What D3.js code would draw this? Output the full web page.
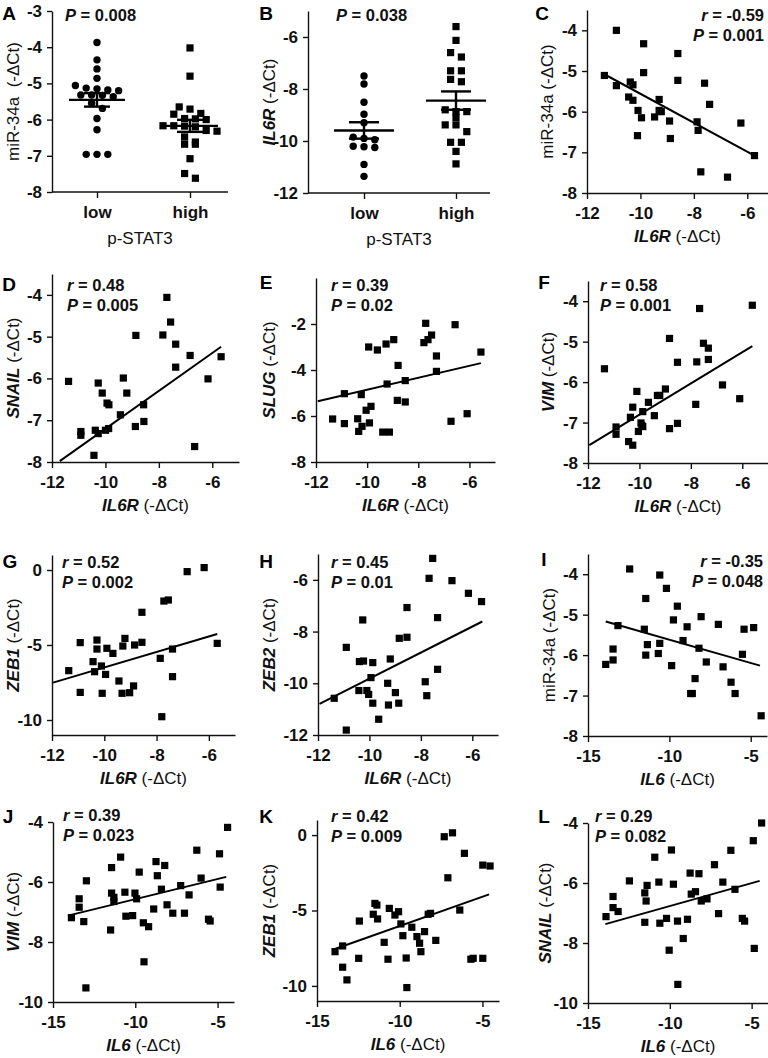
<!DOCTYPE html>
<html lang="en">
<head>
<meta charset="UTF-8">
<title>IL6R / IL6 correlations</title>
<script src="https://cdn.jsdelivr.net/npm/d3@7"></script>
<style>
  body { margin: 0; background: #fff; }
</style>
</head>
<body>
<script>
// ---- data ----
// A: miR-34a by p-STAT3 group
const aLow  = [-3.87, -4.35, -4.6, -4.86, -5.06, -5.15, -5.18, -5.2, -5.13, -5.32, -5.32, -5.33, -5.37, -5.55, -5.69, -5.97, -6.28, -6.96, -6.96, -6.96];
const aHigh = [-4.02, -4.8, -5.65, -5.71, -5.83, -5.85, -5.97, -5.98, -6.0, -6.17, -6.17, -6.18, -6.2, -6.3, -6.32, -6.48, -6.62, -6.68, -6.68, -7.08, -7.49, -7.62];
// B: IL6R by p-STAT3 group
const bLow  = [-7.5, -7.81, -8.51, -8.97, -9.3, -9.85, -9.9, -9.95, -10.2, -10.22, -10.25, -10.9, -11.36];
const bHigh = [-5.6, -6.13, -6.6, -6.77, -7.3, -7.3, -7.63, -7.72, -8.8, -8.87, -8.87, -9.1, -9.38, -9.38, -9.64, -10.05, -10.05, -10.4, -10.88];
const groups = ["low", "high"];

// C-H: against IL6R
const cIL6R = [-10.9,-9.88,-8.6,-11.35,-9.88,-8.6,-10.9,-10.38,-10.28,-7.6,-10.44,-10.28,-9.3,-7.41,-10.09,-9.47,-9.3,-9.22,-9.96,-8.91,-7.88,-6.24,-7.84,-10.11,-8.88,-7.74,-6.74,-5.73];
const cMiR34a = [-4.0,-4.33,-4.57,-5.11,-5.04,-5.23,-5.36,-5.27,-5.34,-5.3,-5.64,-5.72,-5.7,-5.82,-5.97,-6.13,-5.97,-6.0,-6.15,-6.23,-6.25,-6.28,-6.46,-6.59,-6.66,-7.48,-7.61,-7.08];

const dIL6R = [-11.38,-10.92,-10.92,-10.43,-10.38,-10.27,-10.27,-10.12,-10.0,-9.94,-9.87,-9.88,-9.44,-9.33,-9.2,-8.86,-8.88,-8.57,-8.56,-7.85,-7.7,-7.56,-7.37,-7.37,-6.83,-6.66,-6.16,-5.67];
const dSNAIL = [-6.07,-7.27,-7.36,-7.84,-7.24,-6.11,-7.32,-6.35,-7.24,-6.59,-6.63,-7.2,-6.87,-5.99,-6.35,-4.97,-7.15,-6.63,-7.03,-4.96,-4.06,-4.65,-5.18,-5.73,-5.45,-7.63,-6.01,-5.48];

const eIL6R = [-11.35,-10.89,-10.89,-10.37,-10.33,-10.23,-10.2,-10.04,-9.91,-9.94,-9.85,-9.6,-9.39,-9.26,-9.22,-9.13,-8.96,-8.79,-8.82,-8.51,-8.51,-7.78,-7.71,-7.62,-7.48,-7.29,-7.29,-6.72,-6.56,-6.09,-5.55];
const eSLUG = [-6.13,-5.03,-6.33,-6.12,-6.67,-5.07,-6.45,-5.75,-6.3,-3.0,-5.58,-3.13,-6.7,-2.87,-4.61,-6.7,-2.68,-3.8,-5.32,-5.39,-4.46,-2.81,-1.97,-2.68,-2.48,-3.39,-4.06,-6.23,-2.03,-5.9,-3.22];

const fIL6R = [-11.36,-10.91,-10.91,-10.42,-10.26,-10.35,-10.26,-10.1,-10.04,-9.87,-9.94,-9.91,-9.87,-9.65,-9.42,-9.3,-9.21,-8.99,-8.83,-8.83,-8.52,-8.52,-7.81,-7.77,-7.66,-7.51,-7.32,-7.32,-6.77,-6.1,-5.61];
const fVIM = [-5.67,-7.11,-7.29,-7.47,-7.56,-6.87,-6.62,-6.23,-7.22,-6.73,-7.01,-7.07,-7.1,-6.5,-6.83,-6.33,-6.33,-6.17,-4.92,-7.15,-7.02,-5.51,-6.55,-5.5,-4.18,-5.04,-5.16,-5.44,-6.07,-6.41,-4.1];

const gIL6R = [-11.36,-10.92,-10.92,-10.43,-10.37,-10.28,-10.28,-10.11,-10.08,-9.95,-9.9,-9.67,-9.44,-9.32,-9.29,-9.21,-9.03,-8.88,-8.84,-8.56,-8.56,-7.86,-7.8,-7.72,-7.55,-7.39,-7.39,-6.83,-6.18,-5.68];
const gZEB1 = [-6.71,-4.84,-8.16,-6.11,-6.78,-4.67,-5.27,-6.4,-8.22,-6.96,-5.22,-5.56,-7.4,-8.22,-5.07,-4.56,-8.18,-7.73,-5.0,-2.82,-4.82,-5.89,-9.78,-2.07,-2.0,-5.27,-7.11,-0.11,0.16,-4.89];

const hIL6R = [-11.37,-10.9,-10.9,-10.39,-10.41,-10.26,-10.23,-10.1,-10.03,-9.94,-9.87,-9.87,-9.64,-9.29,-9.26,-9.19,-8.99,-8.84,-8.86,-8.54,-8.54,-7.83,-7.77,-7.68,-7.54,-7.35,-7.35,-6.79,-6.15,-5.64];
const hZEB2 = [-10.58,-8.61,-11.81,-9.16,-10.28,-7.55,-9.14,-10.28,-10.43,-9.78,-9.2,-10.77,-11.39,-10.0,-10.84,-9.06,-10.36,-8.26,-10.77,-8.22,-7.07,-9.94,-10.48,-5.94,-5.17,-7.46,-9.46,-6.03,-6.52,-6.84];

// I-L: against IL6
const iIL6 = [-13.91,-13.46,-13.46,-13.16,-12.44,-11.54,-11.45,-11.45,-11.35,-10.68,-10.59,-10.59,-10.18,-9.86,-9.75,-9.51,-9.16,-8.91,-8.69,-8.59,-8.42,-8.05,-8.18,-7.73,-6.99,-6.7,-6.21,-5.96,-5.51,-5.41,-4.82,-4.36];
const iMiR34a = [-6.23,-6.12,-5.85,-5.27,-3.87,-5.36,-4.6,-6.0,-5.74,-5.96,-4.02,-5.71,-4.35,-6.26,-5.13,-4.79,-5.64,-5.3,-6.95,-6.95,-6.58,-5.05,-5.83,-6.17,-5.24,-6.29,-6.67,-6.95,-5.98,-5.36,-5.32,-7.5];

const jIL6 = [-13.88,-13.41,-13.41,-13.13,-12.97,-13.0,-11.5,-11.44,-11.44,-11.3,-11.3,-10.89,-10.63,-10.57,-10.16,-10.02,-9.92,-9.76,-9.51,-9.47,-9.19,-8.88,-8.74,-8.66,-8.41,-8.21,-8.07,-7.72,-7.24,-7.01,-6.73,-6.26,-6.0,-5.55,-5.45,-4.88,-4.84,-4.39];
const jVIM = [-7.19,-6.56,-6.84,-7.32,-5.96,-9.53,-7.6,-5.52,-6.37,-6.51,-6.65,-5.17,-6.34,-7.14,-7.12,-6.37,-6.56,-5.67,-7.36,-8.66,-7.49,-6.9,-5.32,-5.79,-6.24,-5.45,-6.76,-7.04,-6.12,-7.04,-6.43,-4.94,-5.87,-7.24,-7.3,-5.06,-6.17,-4.18];

const kIL6 = [-13.91,-13.45,-13.45,-13.19,-12.48,-12.44,-11.6,-11.5,-11.38,-11.34,-10.94,-10.71,-10.63,-10.29,-10.07,-9.93,-9.81,-9.61,-9.57,-9.27,-8.96,-8.8,-8.72,-8.5,-8.28,-8.14,-7.82,-7.31,-7.09,-6.81,-6.37,-6.09,-5.7,-5.56,-4.98,-4.98,-4.54];
const kZEB1 = [-7.73,-7.35,-8.76,-9.6,-8.17,-5.7,-5.25,-4.53,-4.64,-5.56,-7.11,-8.23,-4.86,-5.3,-5.08,-5.89,-6.67,-8.15,-10.11,-6.11,-6.73,-7.17,-7.73,-6.4,-5.25,-5.19,-6.98,-0.11,-2.83,0.15,-4.97,-1.21,-8.23,-8.17,-1.99,-8.17,-2.05];

const lIL6 = [-13.9,-13.47,-13.47,-13.16,-12.47,-11.53,-11.53,-11.45,-11.39,-10.92,-10.67,-10.61,-10.2,-10.04,-9.9,-9.78,-9.53,-9.51,-9.18,-8.92,-8.76,-8.69,-8.43,-8.22,-8.08,-7.73,-7.27,-7.02,-6.76,-6.27,-6.02,-5.57,-5.43,-4.9,-4.84,-4.39];
const lSNAIL = [-7.12,-6.45,-6.82,-6.95,-5.93,-6.33,-7.31,-6.6,-6.08,-5.14,-5.97,-7.34,-7.18,-8.24,-4.9,-6.04,-7.27,-9.38,-7.85,-7.21,-5.67,-6.37,-6.29,-5.69,-6.6,-6.53,-5.39,-7.02,-5.97,-4.91,-6.21,-7.18,-7.27,-4.59,-8.18,-4.0];

// fitted lines as printed in the figure: [[x start, y start], [x end, y end]]
const cFit = [[-11.35, -5.08], [-5.73, -7.08]];
const dFit = [[-11.71, -7.98], [-5.67, -5.24]];
const eFit = [[-11.93, -5.36], [-5.55, -3.7]];
const fFit = [[-11.95, -7.56], [-5.61, -5.11]];
const gFit = [[-11.96, -7.51], [-5.68, -4.27]];
const hFit = [[-11.94, -10.8], [-5.61, -7.61]];
const iFit = [[-13.91, -5.17], [-4.43, -6.26]];
const jFit = [[-14.09, -7.12], [-4.47, -5.83]];
const kFit = [[-14.09, -7.62], [-4.6, -3.93]];
const lFit = [[-13.94, -7.37], [-4.51, -5.93]];

// tick labels
const ticksIL6R = [-12, -10, -8, -6];
const ticksIL6 = [-15, -10, -5];
const ticksMiR = [-8, -7, -6, -5, -4];
const ticksEven = [-8, -6, -4, -2];
const ticksZEB1 = [-10, -5, 0];
const ticksZEB2 = [-12, -10, -8, -6];
const ticksB = [-12, -10, -8, -6];
const ticksA = [-8, -7, -6, -5, -4, -3];
const ticksVimL = [-10, -8, -6, -4];

// stats text
const groupP = ["0.008", "0.038"];
const rVals = ["-0.59", "0.48", "0.39", "0.58", "0.52", "0.45", "-0.35", "0.39", "0.42", "0.29"];
const pVals = ["0.001", "0.005", "0.02", "0.001", "0.002", "0.01", "0.048", "0.023", "0.009", "0.082"];

// ---- drawing ----
const FONT = '"Liberation Sans", Arial, Helvetica, sans-serif';
const INK = "#111";
const svg = d3.select("body").append("svg")
  .attr("width", 768).attr("height", 1058)
  .attr("font-family", FONT);

const plain = d => String(d); // hyphen minus, no decimals

function styleAxis(g) {
  g.attr("font-family", FONT).attr("font-size", 17).attr("font-weight", "bold");
  g.select(".domain").attr("stroke", INK).attr("stroke-width", 1.4);
  g.selectAll(".tick line").attr("stroke", INK).attr("stroke-width", 1.4);
  g.selectAll(".tick text").attr("fill", INK);
}

// parts: [text, italic, bold]
function richText(x, y, parts, o) {
  const t = svg.append("text")
    .attr("x", x).attr("y", y)
    .attr("text-anchor", o.anchor || "start")
    .attr("font-size", o.size || 16)
    .attr("fill", INK)
    .style("white-space", "pre");
  if (o.rotate) t.attr("transform", `rotate(-90,${x},${y})`).attr("dy", "0.36em");
  parts.forEach(p => t.append("tspan").text(p[0])
    .attr("font-style", p[1] ? "italic" : "normal")
    .attr("font-weight", p[2] ? "bold" : "normal"));
  return t;
}

function letter(ch, x, y) {
  svg.append("text").attr("x", x).attr("y", y).attr("text-anchor", "middle")
    .attr("font-size", 19).attr("font-weight", "bold").attr("fill", "#000").text(ch);
}

function yAxis(y, x0, ticks) {
  const g = svg.append("g").attr("transform", `translate(${x0},0)`)
    .call(d3.axisLeft(y).tickValues(ticks).tickFormat(plain).tickSize(5).tickPadding(5).tickSizeOuter(0));
  styleAxis(g);
}
function xAxis(x, y0, ticks, fmt) {
  const g = svg.append("g").attr("transform", `translate(0,${y0})`)
    .call(d3.axisBottom(x).tickValues(ticks).tickFormat(fmt || plain).tickSize(6).tickPadding(8).tickSizeOuter(0));
  styleAxis(g);
  return g;
}

// simple row-based dot spreading, like GraphPad column scatter
function spread(vals, y, cx, step, rowH) {
  const order = vals.map((v, i) => i).sort((a, b) => vals[b] - vals[a]);
  const rows = [];
  order.forEach(i => {
    const py = y(vals[i]);
    const last = rows[rows.length - 1];
    if (last && py - last.start < rowH) last.items.push(i);
    else rows.push({ start: py, items: [i] });
  });
  const pos = [];
  rows.forEach(r => {
    const n = r.items.length;
    r.items.forEach((i, j) => pos.push({ x: cx + (j - (n - 1) / 2) * step, y: y(vals[i]) }));
  });
  return pos;
}

function groupPanel(cfg) {
  const y = d3.scaleLinear().domain(cfg.yDomain).range(cfg.yRange);
  const x = d3.scalePoint().domain(groups).range(cfg.catRange);
  yAxis(y, cfg.axisX[0], cfg.yTicks);
  const gx = xAxis(x, cfg.yRange[0], groups, d => d);
  gx.select(".domain").attr("d", `M${cfg.axisX[0]},0H${cfg.axisX[1]}`);

  [cfg.low, cfg.high].forEach((vals, k) => {
    const cx = x(groups[k]);
    const pts = spread(vals, y, cx, 10.8, 7);
    if (k === 0) {
      svg.append("g").selectAll("circle").data(pts).join("circle")
        .attr("cx", d => d.x).attr("cy", d => d.y).attr("r", 3.7).attr("fill", "#000");
    } else {
      svg.append("g").selectAll("rect").data(pts).join("rect")
        .attr("x", d => d.x - 3.6).attr("y", d => d.y - 3.6)
        .attr("width", 7.2).attr("height", 7.2).attr("fill", "#000");
    }
    const m = d3.mean(vals);
    const sem = d3.deviation(vals) / Math.sqrt(vals.length);
    const s = svg.append("g").attr("stroke", "#000").attr("stroke-width", 2.4);
    s.append("line").attr("x1", cx - cfg.meanW).attr("x2", cx + cfg.meanW)
      .attr("y1", y(m)).attr("y2", y(m));
    s.append("line").attr("x1", cx).attr("x2", cx).attr("y1", y(m - sem)).attr("y2", y(m + sem));
    [m - sem, m + sem].forEach(v => s.append("line")
      .attr("x1", cx - cfg.semW).attr("x2", cx + cfg.semW).attr("y1", y(v)).attr("y2", y(v)));
  });

  const yMid = (cfg.yRange[0] + cfg.yRange[1]) / 2;
  richText(cfg.yLabX, yMid, cfg.yLab, { anchor: "middle", size: 17, rotate: true });
  richText((cfg.axisX[0] + cfg.axisX[1]) / 2, cfg.yRange[0] + 52, [["p-STAT3", 0, 0]], { anchor: "middle", size: 17 });
  richText(cfg.statX, cfg.statY, [["P", 1, 1], [" = " + cfg.p, 0, 1]], { size: 16.5 });
  letter(cfg.letter, cfg.letterX, cfg.letterY);
}

function scatterPanel(cfg) {
  const x = d3.scaleLinear().domain(cfg.xDomain).range(cfg.xRange);
  const y = d3.scaleLinear().domain(cfg.yDomain).range(cfg.yRange);
  yAxis(y, cfg.xRange[0], cfg.yTicks);
  xAxis(x, cfg.yRange[0], cfg.xTicks);

  svg.append("path")
    .datum(cfg.fit)
    .attr("d", d3.line().x(d => x(d[0])).y(d => y(d[1])))
    .attr("fill", "none").attr("stroke", "#000").attr("stroke-width", 2);

  svg.append("g").selectAll("rect").data(d3.zip(cfg.xs, cfg.ys)).join("rect")
    .attr("x", d => x(d[0]) - 3.6).attr("y", d => y(d[1]) - 3.6)
    .attr("width", 7.2).attr("height", 7.2).attr("fill", "#000");

  const yMid = (cfg.yRange[0] + cfg.yRange[1]) / 2;
  richText(cfg.yLabX, yMid, cfg.yLab, { anchor: "middle", size: 17, rotate: true });
  richText((cfg.xRange[0] + Math.min(cfg.xRange[1], 768)) / 2, cfg.yRange[0] + 49, cfg.xLab, { anchor: "middle", size: 17 });
  const anchor = cfg.statRight ? "end" : "start";
  richText(cfg.statX, cfg.statY, [["r", 1, 1], [" = " + cfg.r, 0, 1]], { size: 16.5, anchor });
  richText(cfg.statX, cfg.statY + 19.5, [["P", 1, 1], [" = " + cfg.p, 0, 1]], { size: 16.5, anchor });
  letter(cfg.letter, cfg.letterX, cfg.letterY);
}

const dct = ["  (-\u0394Ct)", 0, 0];
const dct1 = [" (-\u0394Ct)", 0, 0];
const labIL6R = [["IL6R", 1, 1], dct1];
const labIL6 = [["IL6", 1, 1], dct1];
const labMiR = [["miR-34a", 0, 0], dct1];

groupPanel({ letter: "A", letterX: 9, letterY: 20, low: aLow, high: aHigh,
  yDomain: [-8, -3], yRange: [192, 11], yTicks: ticksA, catRange: [97, 190], axisX: [52, 228],
  meanW: 28, semW: 13, yLabX: 13, yLab: [["miR-34a", 0, 0], dct], statX: 65, statY: 21, p: groupP[0] });
groupPanel({ letter: "B", letterX: 266, letterY: 20, low: bLow, high: bHigh,
  yDomain: [-12, -5], yRange: [193, 11], yTicks: ticksB, catRange: [364, 456], axisX: [308, 490],
  meanW: 30, semW: 15, yLabX: 269, yLab: labIL6R, statX: 336, statY: 21, p: groupP[1] });

const scatters = [
  { letter: "C", letterX: 542, letterY: 20, xs: cIL6R, ys: cMiR34a, fit: cFit, xDomain: [-12, -5], xRange: [587, 774], yDomain: [-8, -3.5], yRange: [193, 10],
    xTicks: ticksIL6R, yTicks: ticksMiR, yLabX: 547, yLab: labMiR, xLab: labIL6R, statX: 764, statY: 21, statRight: true },
  { letter: "D", letterX: 9, letterY: 291, xs: dIL6R, ys: dSNAIL, fit: dFit, xDomain: [-12, -5], xRange: [52, 239], yDomain: [-8, -3.5], yRange: [462, 274],
    xTicks: ticksIL6R, yTicks: ticksMiR, yLabX: 13, yLab: [["SNAIL", 1, 1], dct1], xLab: labIL6R, statX: 67, statY: 291 },
  { letter: "E", letterX: 266, letterY: 289, xs: eIL6R, ys: eSLUG, fit: eFit, xDomain: [-12, -5], xRange: [316, 495], yDomain: [-8, 0], yRange: [462, 278],
    xTicks: ticksIL6R, yTicks: ticksEven, yLabX: 269, yLab: [["SLUG", 1, 1], dct1], xLab: labIL6R, statX: 331, statY: 291 },
  { letter: "F", letterX: 544, letterY: 289, xs: fIL6R, ys: fVIM, fit: fFit, xDomain: [-12, -5], xRange: [588, 768], yDomain: [-8, -3.5], yRange: [463, 281],
    xTicks: ticksIL6R, yTicks: ticksMiR, yLabX: 548, yLab: [["VIM", 1, 1], dct1], xLab: labIL6R, statX: 600, statY: 291 },
  { letter: "G", letterX: 10, letterY: 568, xs: gIL6R, ys: gZEB1, fit: gFit, xDomain: [-12, -5], xRange: [52, 235], yDomain: [-11, 1], yRange: [735, 555],
    xTicks: ticksIL6R, yTicks: ticksZEB1, yLabX: 13, yLab: [["ZEB1", 1, 1], dct1], xLab: labIL6R, statX: 62, statY: 568 },
  { letter: "H", letterX: 266, letterY: 568, xs: hIL6R, ys: hZEB2, fit: hFit, xDomain: [-12, -5], xRange: [318, 498], yDomain: [-12, -5], yRange: [735, 554],
    xTicks: ticksIL6R, yTicks: ticksZEB2, yLabX: 269, yLab: [["ZEB2", 1, 1], dct1], xLab: labIL6R, statX: 331, statY: 568 },
  { letter: "I", letterX: 544, letterY: 566, xs: iIL6, ys: iMiR34a, fit: iFit, xDomain: [-15, -4], xRange: [588, 767], yDomain: [-8, -3.5], yRange: [736, 554],
    xTicks: ticksIL6, yTicks: ticksMiR, yLabX: 549, yLab: labMiR, xLab: labIL6, statX: 763, statY: 567, statRight: true },
  { letter: "J", letterX: 8, letterY: 823, xs: jIL6, ys: jVIM, fit: jFit, xDomain: [-15, -4], xRange: [53, 234], yDomain: [-10, -4], yRange: [1002, 822],
    xTicks: ticksIL6, yTicks: ticksVimL, yLabX: 13, yLab: [["VIM", 1, 1], dct1], xLab: labIL6, statX: 63, statY: 821 },
  { letter: "K", letterX: 266, letterY: 823, xs: kIL6, ys: kZEB1, fit: kFit, xDomain: [-15, -4], xRange: [317, 499], yDomain: [-11, 1], yRange: [1001, 820],
    xTicks: ticksIL6, yTicks: ticksZEB1, yLabX: 269, yLab: [["ZEB1", 1, 1], dct1], xLab: labIL6, statX: 331, statY: 822 },
  { letter: "L", letterX: 544, letterY: 823, xs: lIL6, ys: lSNAIL, fit: lFit, xDomain: [-15, -4], xRange: [588, 768], yDomain: [-10, -4], yRange: [1003, 823],
    xTicks: ticksIL6, yTicks: ticksVimL, yLabX: 545, yLab: [["SNAIL", 1, 1], dct1], xLab: labIL6, statX: 595, statY: 822 }
];
scatters.forEach((cfg, i) => scatterPanel(Object.assign(cfg, { r: rVals[i], p: pVals[i] })));
</script>
</body>
</html>
